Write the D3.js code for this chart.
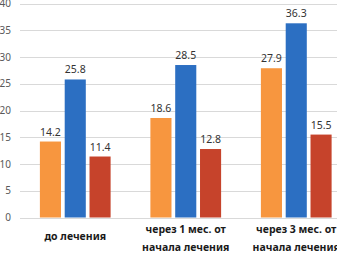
<!DOCTYPE html>
<html>
<head>
<meta charset="utf-8">
<script src="https://cdn.jsdelivr.net/npm/d3@7"></script>
<style>
  body { margin: 0; background: #fff; }
  svg { display: block; font-family: "Noto Sans", "Open Sans", sans-serif; }
</style>
</head>
<body>
<div id="chart"></div>
<script>
var categories = [["до лечения"], ["через 1 мес. от", "начала лечения"], ["через 3 мес. от", "начала лечения"]];
var seriesA = [14.2, 18.6, 27.9];
var seriesB = [25.8, 28.5, 36.3];
var seriesC = [11.4, 12.8, 15.5];
var yTicks = [0, 5, 10, 15, 20, 25, 30, 35, 40];
var colours = ["#F7963F", "#2C6FC2", "#C6432B"];

var width = 337, height = 255;

var svg = d3.select("#chart")
    .append("svg")
    .attr("width", width)
    .attr("height", height);

// x band per category, plot runs past the right edge (cropped like the original)
var x_scale = d3.scaleBand()
    .domain(d3.range(categories.length))
    .range([20, 351.5]);

var y_scale = d3.scaleLinear()
    .domain([0, 40])
    .range([217.5, 3.5]);

var inner = d3.scaleBand()
    .domain([0, 1, 2])
    .range([x_scale.bandwidth() * 0.18, x_scale.bandwidth() * 0.82])
    .paddingInner(0.15);

// gridlines
svg.append("g")
  .selectAll("line")
  .data(yTicks)
  .enter().append("line")
    .attr("x1", 20)
    .attr("x2", width)
    .attr("y1", function(d) { return Math.round(y_scale(d)) + 0.5; })
    .attr("y2", function(d) { return Math.round(y_scale(d)) + 0.5; })
    .attr("stroke", "#d9d9d9")
    .attr("stroke-width", 1);

// y tick labels
svg.append("g")
  .selectAll("text")
  .data(yTicks)
  .enter().append("text")
    .attr("x", 11)
    .attr("y", function(d) { return y_scale(d); })
    .attr("dy", "0.35em")
    .attr("text-anchor", "end")
    .attr("fill", "#595959")
    .style("font-size", "10px")
    .text(function(d) { return d; });

var allSeries = [seriesA, seriesB, seriesC];

allSeries.forEach(function(values, s) {
  var g = svg.append("g");
  g.selectAll("rect")
    .data(values)
    .enter().append("rect")
      .attr("x", function(d, i) { return x_scale(i) + inner(s); })
      .attr("y", function(d) { return y_scale(d); })
      .attr("width", inner.bandwidth())
      .attr("height", function(d) { return y_scale(0) - y_scale(d); })
      .attr("fill", colours[s]);

  g.selectAll("text")
    .data(values)
    .enter().append("text")
      .attr("x", function(d, i) { return x_scale(i) + inner(s) + inner.bandwidth() / 2; })
      .attr("y", function(d) { return y_scale(d) - 6; })
      .attr("text-anchor", "middle")
      .attr("fill", "#333")
      .style("font-size", "10.5px")
      .text(function(d) { return d.toFixed(1); });
});

// category labels
var cat = svg.append("g")
  .selectAll("text")
  .data(categories)
  .enter().append("text")
    .attr("text-anchor", "middle")
    .attr("fill", "#1a1a1a")
    .style("font-size", "10.5px")
    .style("font-weight", "bold")
    .attr("x", function(d, i) { return x_scale(i) + x_scale.bandwidth() / 2; })
    .attr("y", function(d) { return d.length == 1 ? 239.5 : 232.5; });

cat.selectAll("tspan")
  .data(function(d) { return d; })
  .enter().append("tspan")
    .attr("x", function() { return d3.select(this.parentNode).attr("x"); })
    .attr("dy", function(d, i) { return i == 0 ? 0 : 18; })
    .text(function(d) { return d; });
</script>
</body>
</html>
